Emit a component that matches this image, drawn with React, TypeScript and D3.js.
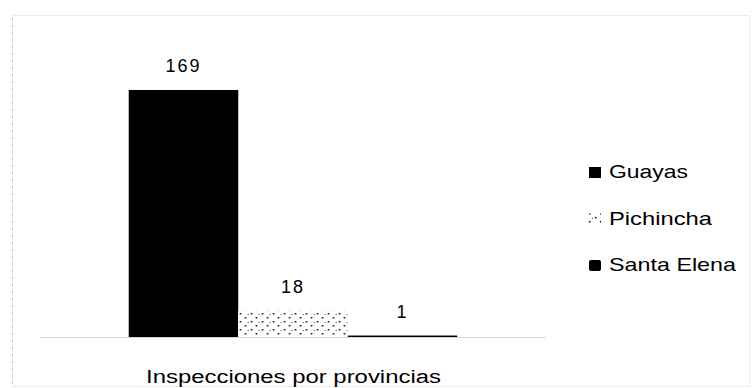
import React from "react";
import * as d3 from "d3";

const categories = ["Inspecciones por provincias"];
const seriesNames = ["Guayas", "Pichincha", "Santa Elena"];
const seriesValues = [169, 18, 1];
const yDomainMax = 180;

const W = 752;
const H = 388;

export default function App() {
  const x0 = d3.scaleBand<string>().domain(categories).range([40, 546]).paddingOuter(0.27).paddingInner(0);
  const x1 = d3.scaleBand<string>().domain(seriesNames).range([0, x0.bandwidth()]).padding(0);
  const y = d3.scaleLinear().domain([0, yDomainMax]).range([337, 73.9]);

  const fills: Record<string, string> = {
    Guayas: "#000",
    Pichincha: "url(#dither)",
    "Santa Elena": "#000",
  };
  const legendLengths = [79, 103, 127];
  const legendY = d3.scalePoint<string>().domain(seriesNames).range([178, 271]);

  return (
    <svg
      width={W}
      height={H}
      style={{ position: "absolute", left: 0, top: 0, background: "#fff" }}
      fontFamily="'Liberation Sans', Arial, sans-serif"
    >
      <defs>
        <pattern id="dither" width="11" height="8" patternUnits="userSpaceOnUse">
          <rect width="11" height="8" fill="#fff" />
          <rect x="1" y="1" width="1.5" height="1.5" fill="#000" />
          <rect x="6" y="5" width="1.5" height="1.5" fill="#000" />
          <rect x="9" y="2" width="1" height="1" fill="#444" />
        </pattern>
      </defs>
      <rect x={12.5} y={15.5} width={737} height={371} fill="none" stroke="#ececec" strokeWidth={1} />
      <line x1={12.5} x2={12.5} y1={18} y2={386} stroke="#bdbdbd" strokeWidth={1} strokeDasharray="2 5" />
      {categories.map((c) => (
        <g key={c} transform={`translate(${x0(c)},0)`}>
          {seriesNames.map((s, i) => {
            const v = seriesValues[i];
            const bx = x1(s)!;
            return (
              <g key={s}>
                <rect x={bx} y={y(v)} width={x1.bandwidth()} height={y(0) - y(v)} fill={fills[s]} />
                <text
                  x={bx + x1.bandwidth() / 2}
                  y={y(v) - 18}
                  textAnchor="middle"
                  fontSize={18}
                  letterSpacing={2}
                  fill="#000"
                >
                  {v}
                </text>
              </g>
            );
          })}
        </g>
      ))}
      <line x1={40} x2={546} y1={337.5} y2={337.5} stroke="#d6d6d6" strokeWidth={1} />
      {categories.map((c) => (
        <text
          key={c}
          x={x0(c)! + x0.bandwidth() / 2 - 147}
          y={383}
          fontSize={18}
          textLength={295}
          lengthAdjust="spacingAndGlyphs"
          fill="#000"
        >
          {c}
        </text>
      ))}
      {seriesNames.map((s, i) => (
        <g key={s}>
          <rect x={589} y={legendY(s)! - 11} width={12} height={11} rx={s === "Santa Elena" ? 2 : 0} fill={fills[s]} />
          <text x={609} y={legendY(s)} fontSize={19} textLength={legendLengths[i]} lengthAdjust="spacingAndGlyphs" fill="#000">
            {s}
          </text>
        </g>
      ))}
    </svg>
  );
}
